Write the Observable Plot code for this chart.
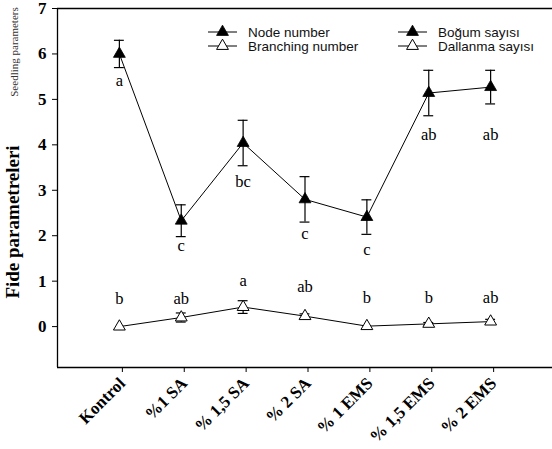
<!DOCTYPE html>
<html><head><meta charset="utf-8">
<script src="https://cdn.jsdelivr.net/npm/d3@7"></script>
<script src="https://cdn.jsdelivr.net/npm/@observablehq/plot@0.6"></script>
<style>body{margin:0;background:#fff} svg{display:block;background:#fff}</style>
</head><body><div id="chart"></div>
<script>
const categories = ["Kontrol", "%1 SA", "% 1,5 SA", "% 2 SA", "% 1 EMS", "% 1,5 EMS", "% 2 EMS"];
const nodeValues = [6.0, 2.33, 4.04, 2.8, 2.41, 5.14, 5.27];
const nodeErrors = [0.3, 0.35, 0.5, 0.5, 0.38, 0.5, 0.37];
const nodeLetters = ["a", "c", "bc", "c", "c", "ab", "ab"];
const nodeLetterAt = [5.42, 1.79, 3.18, 2.05, 1.70, 4.23, 4.23];
const branchValues = [0.0, 0.2, 0.43, 0.23, 0.01, 0.06, 0.11];
const branchErrors = [0, 0.1, 0.14, 0.05, 0, 0.03, 0.05];
const branchLetters = ["b", "ab", "a", "ab", "b", "b", "ab"];
const branchLetterAt = [0.62, 0.62, 1.0, 0.87, 0.63, 0.63, 0.63];
const yTicks = [0, 1, 2, 3, 4, 5, 6, 7];
const legendEnglish = ["Node number", "Branching number"];
const legendTurkish = ["Boğum sayısı", "Dallanma sayısı"];
const yTitle = "Fide parametreleri";
const ySubTitle = "Seedling parameters";

const node = categories.map((c, i) => ({i, c, v: nodeValues[i], e: nodeErrors[i], l: nodeLetters[i], ly: nodeLetterAt[i]}));
const branch = categories.map((c, i) => ({i, c, v: branchValues[i], e: branchErrors[i], l: branchLetters[i], ly: branchLetterAt[i]}));

const serif = "'Liberation Serif', 'Times New Roman', serif";
const cap = 0.08;

function errorMarks(data) {
  const d = data.filter(p => p.e > 0);
  return [
    Plot.ruleX(d, {x: "i", y1: p => p.v - p.e, y2: p => p.v + p.e, stroke: "black", strokeWidth: 1.2}),
    Plot.ruleY(d, {x1: p => p.i - cap, x2: p => p.i + cap, y: p => p.v + p.e, stroke: "black", strokeWidth: 1.2}),
    Plot.ruleY(d, {x1: p => p.i - cap, x2: p => p.i + cap, y: p => p.v - p.e, stroke: "black", strokeWidth: 1.2})
  ];
}

const plot = Plot.plot({
  width: 552,
  height: 449,
  marginLeft: 57,
  marginRight: 0,
  marginTop: 8,
  marginBottom: 82,
  style: {fontFamily: serif, background: "#fff"},
  x: {domain: [-1, 7]},
  y: {domain: [-0.9, 7]},
  marks: [
    Plot.axisY({ticks: yTicks, tickFormat: d => String(d), tickSize: 5, tickPadding: 6, fontSize: 17, fontWeight: "bold", label: null, fill: "black", stroke: "black"}),
    Plot.axisX({ticks: categories.map((c, i) => i), tickFormat: i => categories[i], tickSize: 5, tickPadding: 8, tickRotate: -45, fontSize: 17, fontWeight: "bold", label: null, fill: "black", stroke: "black", dx: 3}),
    Plot.ruleX([-1], {y1: -0.9, y2: 7, stroke: "black", strokeWidth: 1.3}),
    Plot.ruleY([7, -0.9], {x1: -1, x2: 7, stroke: "black", strokeWidth: 1.3}),
    Plot.line(node, {x: "i", y: "v", stroke: "black", strokeWidth: 1}),
    Plot.line(branch, {x: "i", y: "v", stroke: "black", strokeWidth: 1}),
    ...errorMarks(node),
    ...errorMarks(branch),
    Plot.dot(node, {x: "i", y: "v", symbol: "triangle", r: 4.4, fill: "black", stroke: "black", strokeWidth: 0.8}),
    Plot.dot(branch, {x: "i", y: "v", symbol: "triangle", r: 4.4, fill: "white", stroke: "black", strokeWidth: 1}),
    Plot.text(node, {x: "i", y: "ly", text: "l", fontSize: 16.5, fill: "black"}),
    Plot.text(branch, {x: "i", y: "ly", text: "l", fontSize: 16.5, fill: "black"})
  ]
});

const svg = d3.select(plot);
const sans = "'Liberation Sans', Arial, sans-serif";
const tri = d3.symbol(d3.symbolTriangle, 4.4 * 4.4 * Math.PI)();
const legendCols = [{x: 208, labels: legendEnglish}, {x: 398, labels: legendTurkish}];
const rowsY = [32, 46];
const lg = svg.append("g").attr("text-anchor", "start");
legendCols.forEach(col => {
  col.labels.forEach((lab, r) => {
    const y = rowsY[r];
    lg.append("line").attr("x1", col.x).attr("x2", col.x + 29).attr("y1", y).attr("y2", y).attr("stroke", "black").attr("stroke-width", 1);
    lg.append("path").attr("d", tri).attr("transform", `translate(${col.x + 14.5},${y})`)
      .attr("fill", r === 0 ? "black" : "white").attr("stroke", "black").attr("stroke-width", r === 0 ? 0.8 : 1);
    lg.append("text").attr("x", col.x + 40).attr("y", y).attr("dy", "0.35em").attr("text-anchor", "start")
      .style("font-family", sans).style("font-size", "13.5px").attr("fill", "#111").text(lab);
  });
});
svg.append("text").attr("transform", "translate(19,222) rotate(-90)").attr("text-anchor", "middle")
  .style("font-family", serif).style("font-size", "19px").style("font-weight", "bold").attr("fill", "black").text(yTitle);
svg.append("text").attr("transform", "translate(18,52) rotate(-90)").attr("text-anchor", "middle")
  .style("font-family", serif).style("font-size", "11px").attr("fill", "#333").text(ySubTitle);

document.getElementById("chart").appendChild(plot);
</script>
</body></html>
